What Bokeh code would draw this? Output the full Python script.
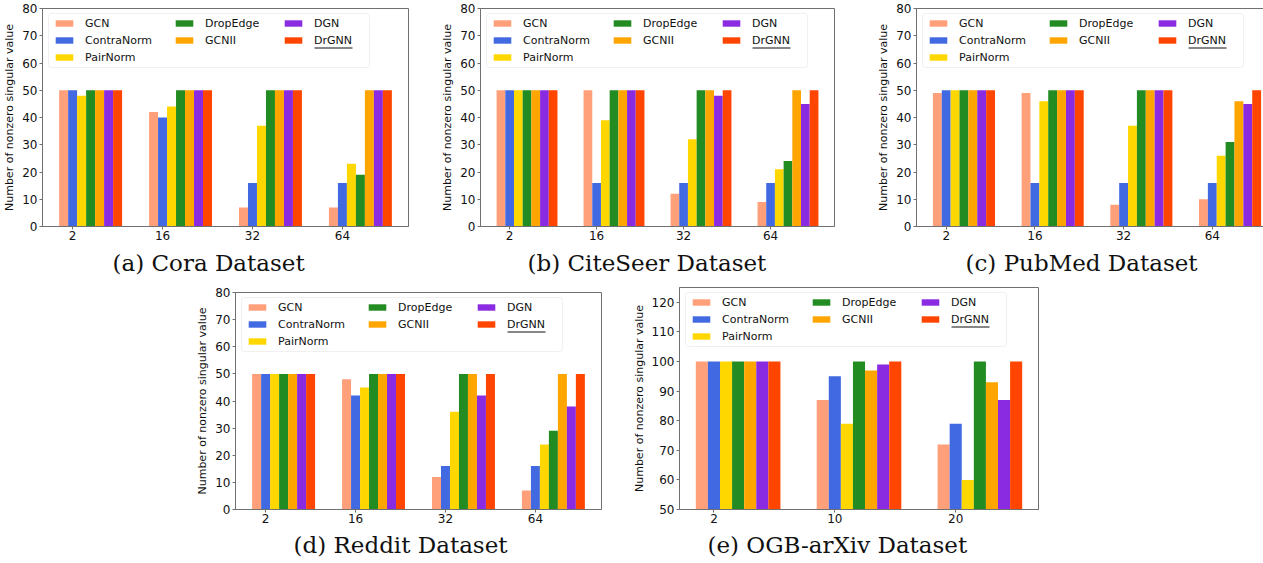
from bokeh.plotting import figure
from bokeh.models import (ColumnDataSource, FixedTicker, Legend, LegendItem,
                          Title, Spacer, Range1d, BoxAnnotation)
from bokeh.transform import dodge
from bokeh.layouts import row, column
from bokeh.embed import file_html
from bokeh.resources import INLINE

methods = ["GCN", "ContraNorm", "PairNorm", "DropEdge", "GCNII", "DGN", "DrGNN"]
colors = ["#FFA07A", "#4169E1", "#FFD700", "#228B22", "#FFA500", "#8A2BE2", "#FF4500"]

layers_planetoid = ["2", "16", "32", "64"]
layers_arxiv = ["2", "10", "20"]

cora = {
    "GCN": [50, 42, 7, 7],
    "ContraNorm": [50, 40, 16, 16],
    "PairNorm": [48, 44, 37, 23],
    "DropEdge": [50, 50, 50, 19],
    "GCNII": [50, 50, 50, 50],
    "DGN": [50, 50, 50, 50],
    "DrGNN": [50, 50, 50, 50],
}
citeseer = {
    "GCN": [50, 50, 12, 9],
    "ContraNorm": [50, 16, 16, 16],
    "PairNorm": [50, 39, 32, 21],
    "DropEdge": [50, 50, 50, 24],
    "GCNII": [50, 50, 50, 50],
    "DGN": [50, 50, 48, 45],
    "DrGNN": [50, 50, 50, 50],
}
pubmed = {
    "GCN": [49, 49, 8, 10],
    "ContraNorm": [50, 16, 16, 16],
    "PairNorm": [50, 46, 37, 26],
    "DropEdge": [50, 50, 50, 31],
    "GCNII": [50, 50, 50, 46],
    "DGN": [50, 50, 50, 45],
    "DrGNN": [50, 50, 50, 50],
}
reddit = {
    "GCN": [50, 48, 12, 7],
    "ContraNorm": [50, 42, 16, 16],
    "PairNorm": [50, 45, 36, 24],
    "DropEdge": [50, 50, 50, 29],
    "GCNII": [50, 50, 50, 50],
    "DGN": [50, 50, 42, 38],
    "DrGNN": [50, 50, 50, 50],
}
arxiv = {
    "GCN": [100, 87, 72],
    "ContraNorm": [100, 95, 79],
    "PairNorm": [100, 79, 60],
    "DropEdge": [100, 100, 100],
    "GCNII": [100, 97, 93],
    "DGN": [100, 99, 87],
    "DrGNN": [100, 100, 100],
}

y_ticks_planetoid = list(range(0, 81, 10))
y_ticks_arxiv = list(range(50, 121, 10))
y_label = "Number of nonzero singular value"
legend_columns = [["GCN", "ContraNorm", "PairNorm"], ["DropEdge", "GCNII"], ["DGN", "DrGNN"]]
highlight = "DrGNN"

BAR_W = 0.1
AXIS_COLOR = "#707070"
TEXT_COLOR = "#111111"

# legend geometry in pixels, relative to the frame's top-left corner
LEG_BOX = (6, 327, 5, 59)          # left, right, top, bottom
LEG_COL_X = [11, 131, 240]
LEG_TOP = 7
ROW_H = 16
ROW_GAP = 1


def make_panel(values, tick_labels, y_lo, y_hi, y_ticks, caption,
               frame_w, frame_h, b_left, b_right, b_top, b_bottom, cap_left, cap_gap):
    n = len(tick_labels)
    xs = list(range(n))
    data = {"x": xs}
    data.update(values)
    src = ColumnDataSource(data)
    span = (n - 1) + 0.7
    x_lo = -0.15 - 0.05 * span
    x_hi = (n - 1) + 0.55 + 0.05 * span
    px_x = (x_hi - x_lo) / frame_w
    px_y = (y_hi - y_lo) / frame_h

    p = figure(frame_width=frame_w, frame_height=frame_h,
               x_range=Range1d(x_lo, x_hi), y_range=Range1d(y_lo, y_hi),
               output_backend="svg", toolbar_location=None,
               min_border_left=b_left, min_border_right=b_right,
               min_border_top=b_top, min_border_bottom=b_bottom)
    p.grid.visible = False
    p.outline_line_color = AXIS_COLOR
    p.outline_line_width = 1
    p.background_fill_color = "white"
    p.border_fill_color = "white"

    items = {}
    for k, (m, c) in enumerate(zip(methods, colors)):
        r = p.vbar(x=dodge("x", (k - 1) * BAR_W, range=p.x_range), top=m,
                   bottom=0, width=BAR_W, source=src, fill_color=c,
                   line_color=None)
        items[m] = r

    p.xaxis.ticker = FixedTicker(ticks=xs)
    p.xaxis.major_label_overrides = {i: t for i, t in zip(xs, tick_labels)}
    p.yaxis.ticker = FixedTicker(ticks=y_ticks)
    p.yaxis.axis_label = y_label
    for ax in (p.xaxis[0], p.yaxis[0]):
        ax.axis_line_color = AXIS_COLOR
        ax.major_tick_line_color = AXIS_COLOR
        ax.minor_tick_line_color = None
        ax.major_tick_out = 3
        ax.major_tick_in = 0
        ax.major_label_standoff = 2
        ax.major_label_text_font = "DejaVu Sans"
        ax.major_label_text_font_size = "12px"
        ax.major_label_text_color = TEXT_COLOR
    p.xaxis.major_label_standoff = 1
    p.yaxis.axis_label_text_font = "DejaVu Sans"
    p.yaxis.axis_label_text_font_size = "11px"
    p.yaxis.axis_label_text_font_style = "normal"
    p.yaxis.axis_label_text_color = TEXT_COLOR
    p.yaxis.axis_label_standoff = 3

    # legend frame
    l, r_, t, b = LEG_BOX
    p.add_layout(BoxAnnotation(left=x_lo + l * px_x, right=x_lo + r_ * px_x,
                               top=y_hi - t * px_y, bottom=y_hi - b * px_y,
                               fill_color="white", fill_alpha=0.85,
                               line_color="#cccccc", line_width=1,
                               border_radius=3))
    for col_items, cx in zip(legend_columns, LEG_COL_X):
        h = len(col_items) * ROW_H + (len(col_items) - 1) * ROW_GAP
        leg = Legend(items=[LegendItem(label=m, renderers=[items[m]]) for m in col_items],
                     location=(cx, frame_h - LEG_TOP - h), orientation="vertical",
                     margin=0, padding=0, spacing=ROW_GAP, label_standoff=10,
                     glyph_width=22, glyph_height=8, label_height=ROW_H,
                     label_text_font="DejaVu Sans", label_text_font_size="11px",
                     label_text_color=TEXT_COLOR,
                     border_line_color=None, background_fill_alpha=0)
        p.add_layout(leg, "center")
        if highlight in col_items:
            j = col_items.index(highlight)
            uy = LEG_TOP + j * (ROW_H + ROW_GAP) + ROW_H / 2 + 7
            ux = cx + 22 + 10
            p.add_layout(BoxAnnotation(left=x_lo + ux * px_x, right=x_lo + (ux + 38) * px_x,
                                       top=y_hi - uy * px_y, bottom=y_hi - (uy + 1) * px_y,
                                       fill_color=TEXT_COLOR, fill_alpha=1,
                                       line_color=None))

    p.add_layout(Title(text=caption, align="left", offset=cap_left, standoff=cap_gap,
                       text_font="DejaVu Serif", text_font_size="23px",
                       text_font_style="normal", text_color="#111111"),
                 "below")
    return p


pa = make_panel(cora, layers_planetoid, 0, 80, y_ticks_planetoid, "(a) Cora Dataset",
                366, 218, 36, 30, 8, 56, 70, 10)
pb = make_panel(citeseer, layers_planetoid, 0, 80, y_ticks_planetoid, "(b) CiteSeer Dataset",
                354, 218, 36, 40, 8, 56, 47, 10)
pc = make_panel(pubmed, layers_planetoid, 0, 80, y_ticks_planetoid, "(c) PubMed Dataset",
                361, 218, 37, 2, 8, 56, 49, 10)
pd = make_panel(reddit, layers_planetoid, 0, 80, y_ticks_planetoid, "(d) Reddit Dataset",
                366, 217, 36, 28, 5, 52, 58, 9)
pe = make_panel(arxiv, layers_arxiv, 50, 125, y_ticks_arxiv, "(e) OGB-arXiv Dataset",
                359, 222, 44, 5, 5, 52, 28, 9)

layout = column(row(pa, pb, pc),
                row(Spacer(width=193, height=10), column(Spacer(width=10, height=5), pd), pe))

open("out.html", "w").write(file_html(layout, INLINE))
